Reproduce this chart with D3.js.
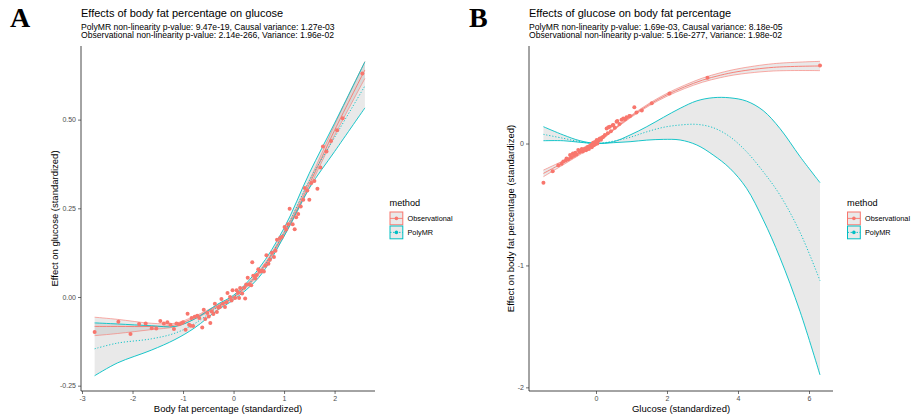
<!DOCTYPE html>
<html>
<head>
<meta charset="utf-8">
<script src="https://cdn.jsdelivr.net/npm/d3@7"></script>
<style>
  html, body { margin: 0; padding: 0; background: #fff; }
  svg { display: block; }
  text { font-family: "Liberation Sans", Arial, Helvetica, sans-serif; }
  text.tag { font-family: "Liberation Serif", "DejaVu Serif", "Times New Roman", serif; font-weight: bold; }
</style>
</head>
<body>
<svg id="chart" width="911" height="420"></svg>
<script>
// ---------- Panel A: body fat percentage -> glucose ----------
const aGridX      = [-2.75, -2.3, -1.63, -1.16, -0.77, -0.31, 0, 0.5, 1, 1.5, 2, 2.6];
const aObsFit     = [-0.083, -0.083, -0.083, -0.079, -0.058, -0.025, 0.0, 0.068, 0.178, 0.318, 0.47, 0.64];
const aObsHalf    = [0.026, 0.02, 0.009, 0.005, 0.004, 0.003, 0.003, 0.004, 0.006, 0.01, 0.015, 0.024];
const aPolyUpper  = [-0.073, -0.076, -0.081, -0.083, -0.062, -0.02, 0.005, 0.08, 0.194, 0.349, 0.49, 0.663];
const aPolyFit    = [-0.146, -0.13, -0.118, -0.102, -0.075, -0.028, 0.0, 0.068, 0.182, 0.328, 0.45, 0.595];
const aPolyLower  = [-0.222, -0.186, -0.15, -0.12, -0.087, -0.036, -0.008, 0.055, 0.171, 0.307, 0.41, 0.533];
const aPoints = [
  [-2.75,-0.099],[-2.28,-0.070],[-2.04,-0.104],[-1.87,-0.076],[-1.74,-0.075],[-1.62,-0.088],[-1.53,-0.089],
  [-1.45,-0.068],[-1.38,-0.075],[-1.31,-0.071],[-1.25,-0.078],[-1.18,-0.090],[-1.13,-0.075],[-1.08,-0.077],
  [-1.03,-0.074],[-1.00,-0.071],[-0.95,-0.092],[-0.91,-0.047],[-0.88,-0.078],[-0.85,-0.081],[-0.83,-0.059],
  [-0.80,-0.082],[-0.77,-0.056],[-0.72,-0.053],[-0.68,-0.059],[-0.62,-0.086],[-0.59,-0.036],[-0.56,-0.062],
  [-0.52,-0.045],[-0.49,-0.055],[-0.46,-0.073],[-0.43,-0.041],[-0.40,-0.048],[-0.37,-0.019],[-0.33,-0.042],
  [-0.30,-0.030],[-0.27,-0.028],[-0.24,-0.006],[-0.21,-0.019],[-0.17,-0.028],[-0.14,-0.015],[-0.12,0.011],
  [-0.07,0.000],[-0.04,-0.010],[-0.02,0.019],[0.03,-0.003],[0.06,0.019],[0.09,0.012],[0.11,-0.003],
  [0.13,0.025],[0.17,0.010],[0.21,0.026],[0.23,-0.004],[0.25,0.035],[0.28,0.054],[0.31,0.035],[0.35,0.033],
  [0.37,0.098],[0.39,0.060],[0.43,0.052],[0.46,0.062],[0.49,0.078],[0.51,0.073],[0.54,0.072],[0.57,0.074],
  [0.60,0.072],[0.63,0.088],[0.65,0.118],[0.69,0.094],[0.72,0.105],[0.76,0.125],[0.80,0.113],[0.83,0.130],
  [0.86,0.161],[0.92,0.166],[0.96,0.170],[1.01,0.197],[1.04,0.190],[1.08,0.205],[1.11,0.249],[1.17,0.205],
  [1.21,0.191],[1.24,0.225],[1.28,0.234],[1.33,0.255],[1.38,0.274],[1.41,0.307],[1.46,0.300],[1.50,0.274],
  [1.54,0.321],[1.60,0.327],[1.66,0.305],[1.72,0.365],[1.77,0.424],[1.84,0.410],[1.93,0.440],[2.05,0.470],
  [2.16,0.504],[2.55,0.630]
];
const aXTicks = [-3, -2, -1, 0, 1, 2];
const aYTicks = [-0.25, 0, 0.25, 0.5];
const aYTickLabels = ["-0.25", "0.00", "0.25", "0.50"];

// ---------- Panel B: glucose -> body fat percentage ----------
const bObsX       = [-1.48, -1, -0.5, 0, 0.5, 1, 1.5, 2, 2.5, 3, 3.5, 4, 5, 6.31];
const bObsFit     = [-0.245, -0.17, -0.09, 0.0, 0.115, 0.225, 0.32, 0.40, 0.465, 0.52, 0.56, 0.59, 0.625, 0.636];
const bObsHalf    = [0.027, 0.018, 0.01, 0.006, 0.006, 0.008, 0.01, 0.012, 0.014, 0.017, 0.02, 0.023, 0.03, 0.038];
const bPolyX      = [-1.48, -0.92, -0.45, 0, 0.49, 0.96, 1.43, 1.9, 2.37, 2.84, 3.3, 3.77, 4.24, 4.71, 5.18, 5.75, 6.31];
const bPolyUpper  = [0.138, 0.07, 0.023, 0.002, 0.015, 0.07, 0.138, 0.215, 0.289, 0.35, 0.376, 0.375, 0.348, 0.27, 0.124, -0.108, -0.321];
const bPolyFit    = [0.075, 0.043, 0.015, 0.0, 0.02, 0.051, 0.096, 0.133, 0.152, 0.157, 0.13, 0.056, -0.067, -0.231, -0.422, -0.73, -1.125];
const bPolyLower  = [0.023, 0.023, 0.01, 0.0, 0.007, 0.015, 0.028, 0.034, 0.029, -0.012, -0.094, -0.203, -0.367, -0.625, -0.935, -1.38, -1.898];
const bPoints = [
  [-1.48,-0.321],[-1.22,-0.228],[-1.06,-0.179],[-0.97,-0.165],[-0.92,-0.147],[-0.85,-0.140],[-0.83,-0.122],
  [-0.78,-0.130],[-0.73,-0.095],[-0.70,-0.115],[-0.65,-0.082],[-0.62,-0.100],[-0.58,-0.075],[-0.55,-0.090],
  [-0.50,-0.053],[-0.47,-0.070],[-0.44,-0.060],[-0.40,-0.045],[-0.37,-0.065],[-0.34,-0.050],[-0.31,-0.040],
  [-0.28,-0.055],[-0.25,-0.030],[-0.22,-0.026],[-0.20,-0.045],[-0.17,-0.020],[-0.15,-0.013],[-0.12,-0.030],
  [-0.10,-0.005],[-0.08,0.007],[-0.06,-0.015],[-0.04,0.010],[-0.02,-0.005],[0.00,0.015],[0.02,0.029],
  [0.04,0.000],[0.06,0.020],[0.09,0.035],[0.11,0.042],[0.14,0.030],[0.17,0.050],[0.21,0.055],[0.25,0.070],
  [0.30,0.124],[0.33,0.085],[0.35,0.133],[0.39,0.138],[0.42,0.100],[0.47,0.150],[0.49,0.152],[0.53,0.130],
  [0.58,0.179],[0.60,0.184],[0.66,0.160],[0.72,0.195],[0.77,0.205],[0.82,0.200],[0.86,0.215],[0.94,0.225],
  [0.96,0.225],[1.08,0.297],[1.14,0.255],[1.29,0.270],[1.57,0.330],[2.07,0.410],[3.14,0.540],[6.31,0.641]
];
const bXTicks = [0, 2, 4, 6];
const bYTicks = [-2, -1, 0];

const methods = ["Observational", "PolyMR"];
const colours = { Observational: "#F8766D", PolyMR: "#00BFC4" };

const svg = d3.select("#chart");

function zip(xs, ys) { return xs.map((x, i) => ({ x, y: ys[i] })); }

function drawPanel(cfg) {
  const g = svg.append("g");
  const x = d3.scaleLinear().domain(cfg.xDomain).range([cfg.left, cfg.right]);
  const y = d3.scaleLinear().domain(cfg.yDomain).range([cfg.bottom, cfg.top]);

  const smooth = d3.curveCatmullRom.alpha(0.5);
  const area = d3.area().curve(smooth)
    .x(d => x(d.x)).y0(d => y(d.lo)).y1(d => y(d.hi));
  const line = d3.line().curve(smooth).x(d => x(d.x)).y(d => y(d.y));

  const obsBand = cfg.obsX.map((v, i) => ({ x: v, lo: cfg.obsFit[i] - cfg.obsHalf[i], hi: cfg.obsFit[i] + cfg.obsHalf[i] }));
  const polyBand = cfg.polyX.map((v, i) => ({ x: v, lo: cfg.polyLower[i], hi: cfg.polyUpper[i] }));

  // confidence ribbons
  g.append("path").attr("d", area(polyBand)).attr("fill", "#999999").attr("fill-opacity", 0.22);
  g.append("path").attr("d", area(obsBand)).attr("fill", "#999999").attr("fill-opacity", 0.22);

  // observational fit with bounds
  const obsCol = colours.Observational;
  g.append("path").attr("d", line(obsBand.map(d => ({ x: d.x, y: d.hi }))))
    .attr("fill", "none").attr("stroke", obsCol).attr("stroke-opacity", 0.75).attr("stroke-width", 0.8);
  g.append("path").attr("d", line(obsBand.map(d => ({ x: d.x, y: d.lo }))))
    .attr("fill", "none").attr("stroke", obsCol).attr("stroke-opacity", 0.75).attr("stroke-width", 0.8);
  g.append("path").attr("d", line(zip(cfg.obsX, cfg.obsFit)))
    .attr("fill", "none").attr("stroke", obsCol).attr("stroke-width", 0.9);

  // PolyMR fit with bounds
  const polyCol = colours.PolyMR;
  g.append("path").attr("d", line(zip(cfg.polyX, cfg.polyUpper)))
    .attr("fill", "none").attr("stroke", polyCol).attr("stroke-width", 0.9);
  g.append("path").attr("d", line(zip(cfg.polyX, cfg.polyLower)))
    .attr("fill", "none").attr("stroke", polyCol).attr("stroke-width", 0.9);
  g.append("path").attr("d", line(zip(cfg.polyX, cfg.polyFit)))
    .attr("fill", "none").attr("stroke", polyCol).attr("stroke-width", 0.9)
    .attr("stroke-dasharray", "1.2,1.8");

  // binned observational estimates
  g.append("g").selectAll("circle").data(cfg.points).join("circle")
    .attr("cx", d => x(d[0])).attr("cy", d => y(d[1])).attr("r", 2)
    .attr("fill", obsCol);

  // axes
  const xAxis = g.append("g").attr("transform", `translate(0,${cfg.bottom})`)
    .call(d3.axisBottom(x).tickValues(cfg.xTicks).tickSize(3).tickPadding(2).tickFormat(d => String(d)));
  const yAxis = g.append("g").attr("transform", `translate(${cfg.left},0)`)
    .call(d3.axisLeft(y).tickValues(cfg.yTicks).tickSize(3).tickPadding(2)
      .tickFormat((d, i) => cfg.yTickLabels ? cfg.yTickLabels[i] : String(d)));
  [xAxis, yAxis].forEach(ax => {
    ax.select(".domain").attr("stroke", "#1a1a1a").attr("stroke-width", 0.8);
    ax.selectAll(".tick line").attr("stroke", "#333333").attr("stroke-width", 0.7);
    ax.selectAll(".tick text").attr("fill", "#4d4d4d").attr("font-size", 7);
  });
  // axis lines span the full panel
  xAxis.select(".domain").attr("d", `M${cfg.left},0H${cfg.right}`);
  yAxis.select(".domain").attr("d", `M0,${cfg.top}V${cfg.bottom}`);

  // axis titles
  g.append("text").attr("x", (cfg.left + cfg.right) / 2).attr("y", 411.5)
    .attr("text-anchor", "middle").attr("font-size", 9.5).attr("fill", "#000")
    .text(cfg.xTitle);
  g.append("text").attr("transform", `translate(${cfg.yTitleX},${(cfg.top + cfg.bottom) / 2}) rotate(-90)`)
    .attr("text-anchor", "middle").attr("font-size", 9.5).attr("fill", "#000")
    .text(cfg.yTitle);

  // titles
  g.append("text").attr("x", cfg.left).attr("y", 17).attr("font-size", 11).attr("fill", "#000").text(cfg.title);
  g.append("text").attr("x", cfg.left).attr("y", 29.5).attr("font-size", 8.6).attr("fill", "#000").text(cfg.sub1);
  g.append("text").attr("x", cfg.left).attr("y", 38.2).attr("font-size", 8.6).attr("fill", "#000").text(cfg.sub2);

  // panel tag
  g.append("text").attr("class", "tag").attr("x", cfg.tagX).attr("y", 27)
    .attr("font-size", 28).attr("fill", "#000").text(cfg.tag);

  // legend
  const lg = g.append("g").attr("transform", `translate(${cfg.legendX},0)`);
  lg.append("text").attr("x", 0).attr("y", 206).attr("font-size", 9.2).attr("fill", "#000").text("method");
  methods.forEach((m, i) => {
    const ky = 211.5 + i * 14;
    const kg = lg.append("g").attr("transform", `translate(0,${ky})`);
    kg.append("rect").attr("x", 0.5).attr("y", 0.5).attr("width", 12.8).attr("height", 12.8)
      .attr("fill", "#999999").attr("fill-opacity", 0.22)
      .attr("stroke", colours[m]).attr("stroke-width", 1);
    kg.append("line").attr("x1", 0.5).attr("x2", 13.3).attr("y1", 6.9).attr("y2", 6.9)
      .attr("stroke", colours[m]).attr("stroke-width", 0.9)
      .attr("stroke-dasharray", m === "PolyMR" ? "1.5,1.5" : null);
    kg.append("circle").attr("cx", 6.9).attr("cy", 6.9).attr("r", 1.8).attr("fill", colours[m]);
    lg.append("text").attr("x", 18).attr("y", ky + 9.2).attr("font-size", 7.3).attr("fill", "#000").text(m);
  });
}

drawPanel({
  left: 81, right: 375, top: 46, bottom: 391,
  xDomain: [-3.02, 2.8], yDomain: [-0.265, 0.7075],
  obsX: aGridX, obsFit: aObsFit, obsHalf: aObsHalf,
  polyX: aGridX, polyUpper: aPolyUpper, polyFit: aPolyFit, polyLower: aPolyLower,
  points: aPoints, xTicks: aXTicks, yTicks: aYTicks, yTickLabels: aYTickLabels,
  xTitle: "Body fat percentage (standardized)", yTitle: "Effect on glucose (standardized)", yTitleX: 58,
  title: "Effects of body fat percentage on glucose",
  sub1: "PolyMR non-linearity p-value: 9.47e-19, Causal variance: 1.27e-03",
  sub2: "Observational non-linearity p-value: 2.14e-266, Variance: 1.96e-02",
  tag: "A", tagX: 10, legendX: 389.5
});

drawPanel({
  left: 529, right: 833, top: 46, bottom: 391,
  xDomain: [-1.887, 6.676], yDomain: [-2.03, 0.80],
  obsX: bObsX, obsFit: bObsFit, obsHalf: bObsHalf,
  polyX: bPolyX, polyUpper: bPolyUpper, polyFit: bPolyFit, polyLower: bPolyLower,
  points: bPoints, xTicks: bXTicks, yTicks: bYTicks, yTickLabels: null,
  xTitle: "Glucose (standardized)", yTitle: "Effect on body fat percentage (standardized)", yTitleX: 514,
  title: "Effects of glucose on body fat percentage",
  sub1: "PolyMR non-linearity p-value: 1.69e-03, Causal variance: 8.18e-05",
  sub2: "Observational non-linearity p-value: 5.16e-277, Variance: 1.98e-02",
  tag: "B", tagX: 469, legendX: 847
});
</script>
</body>
</html>
